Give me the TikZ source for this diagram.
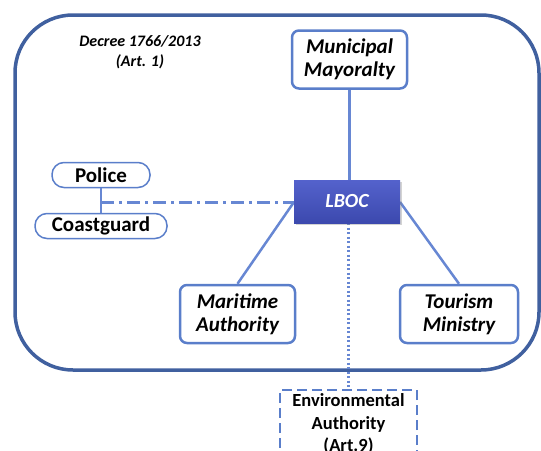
\documentclass[tikz,border=0pt]{standalone}
\usepackage{fontspec}
\setmainfont{Carlito}
\usetikzlibrary{shadows}

\definecolor{frameblue}{HTML}{40609F}
\definecolor{boxblue}{HTML}{5A7ECA}
\definecolor{linkblue}{HTML}{6787D3}
\definecolor{lboctop}{HTML}{5462CC}
\definecolor{lbocbot}{HTML}{3C49AE}

\begin{document}
\begin{tikzpicture}[x=1pt, y=-1pt, line width=2.5pt,
    agency/.style={draw=boxblue, fill=white, rounded corners=7pt, align=center,
                   minimum height=58pt, inner sep=0pt,
                   font=\fontsize{21}{23}\selectfont\bfseries\itshape},
    pill/.style={draw=boxblue, fill=white, rounded corners=12pt, line width=1.5pt,
                 minimum height=25pt, inner sep=0pt,
                 font=\fontsize{21}{22}\selectfont\bfseries},
    link/.style={draw=linkblue, line width=2.5pt}]
            \useasboundingbox (0,0) rectangle (541,450);

            % draw outer frame
            \draw[frameblue, line width=3.5pt, rounded corners=58pt] (15,15) rectangle (539,370);

            % decree label
            \node[align=center, font=\fontsize{16}{20}\selectfont\bfseries\itshape] (decree)
                at (140,52) {Decree 1766/2013\\(Art. 1)};

            % draw the agencies
            \node[agency, minimum width=115pt] (mayor)    at (349.5,59.5) {Municipal\\Mayoralty};
            \node[agency, minimum width=115pt] (maritime) at (237.5,314)  {Maritime\\Authority};
            \node[agency, minimum width=118pt] (tourism)  at (459,314)    {Tourism\\Ministry};
            \node[pill, minimum width=98pt]    (police)   at (101,175)    {Police};
            \node[pill, minimum width=132pt]   (coast)    at (101,226)    {Coastguard};
            \node[draw=boxblue, line width=2pt, dash pattern=on 10pt off 5pt,
                  minimum width=137pt, minimum height=68pt, anchor=north, align=center,
                  font=\fontsize{18.5}{22.5}\selectfont\bfseries] (env)
                at (348.5,389) {Environmental\\Authority\\(Art.9)};

            % draw connectors
            \coordinate (pc) at (police.south |- 347,202);
            \draw[link] (police.south) -- (coast.north);
            \draw[link] (mayor.south) -- (349.5,180);
            \draw[link] (maritime.north) -- (294,202);
            \draw[link] (tourism.north) -- (400,202);
            \draw[link, line width=3pt, dash pattern=on 13pt off 5pt on 3pt off 5pt]
                (pc) -- (294,202);
            \draw[link, line width=3pt, dash pattern=on 2pt off 2.5pt]
                (348,223) -- (env.north -| 348,0);

            % central board
            \node[top color=lboctop, bottom color=lbocbot, drop shadow={opacity=0.35},
                  minimum width=106pt, minimum height=43pt, text=white,
                  font=\fontsize{20}{22}\selectfont\bfseries\itshape] (lboc)
                at (347,201.5) {LBOC};
        \end{tikzpicture}
\end{document}
